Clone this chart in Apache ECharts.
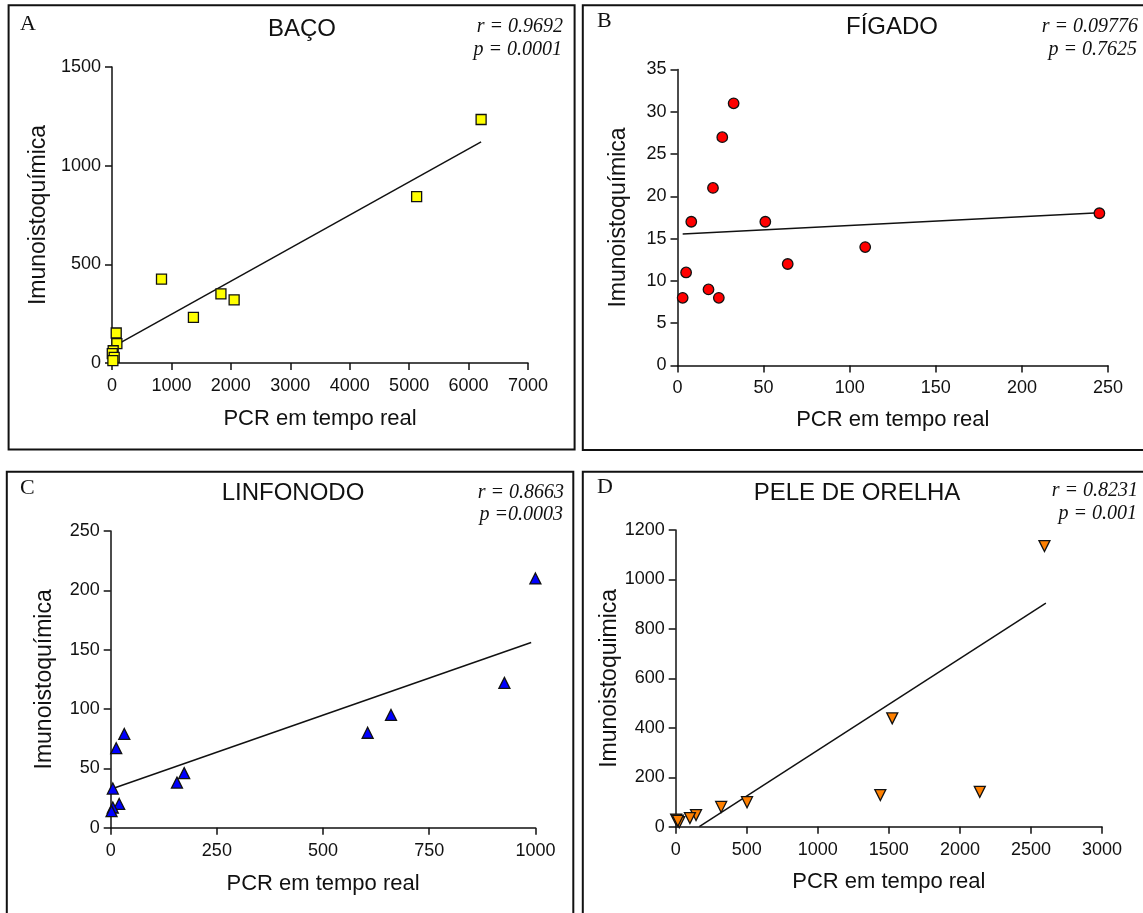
<!DOCTYPE html>
<html>
<head>
<meta charset="utf-8">
<title>Imunoistoquímica x PCR em tempo real</title>
<script src="https://cdn.jsdelivr.net/npm/echarts@6/dist/echarts.min.js"></script>
<style>
  html, body { margin: 0; padding: 0; background: #fff; }
  #chart { width: 1143px; height: 913px; }
</style>
</head>
<body>
<div id="chart"></div>
<script>
// ---- data ----
const panelLetters = ['A', 'B', 'C', 'D'];
const panelTitles = ['BAÇO', 'FÍGADO', 'LINFONODO', 'PELE DE ORELHA'];
const rTexts = ['r = 0.9692', 'r = 0.09776', 'r = 0.8663', 'r = 0.8231'];
const pTexts = ['p = 0.0001', 'p = 0.7625', 'p =0.0003', 'p = 0.001'];
const xNames = ['PCR em tempo real', 'PCR em tempo real', 'PCR em tempo real', 'PCR em tempo real'];
const yNames = ['Imunoistoquímica', 'Imunoistoquímica', 'Imunoistoquímica', 'Imunoistoquimica'];

// axis ranges and tick steps
const xMax = [7000, 250, 1000, 3000];
const xStep = [1000, 50, 250, 500];
const yMax = [1500, 35, 250, 1200];
const yStep = [500, 5, 50, 200];

// A - baço
const bacoPCR = [6211, 5126, 833, 1833, 2055, 1370, 71, 82, 20, 5, 37, 15];
const bacoIHC = [1234, 843, 425, 350, 320, 231, 152, 98, 62, 48, 28, 12];
const bacoFit = [[0, 79], [6211, 1121]];

// B - fígado
const figadoPCR = [245, 32.6, 26, 20.6, 8, 51, 109, 64, 5, 3, 18, 24];
const figadoIHC = [18, 31, 27, 21, 17, 17, 14, 12, 11, 8, 9, 8];
const figadoFit = [[3, 15.55], [245, 18.05]];

// C - linfonodo
const linfonodoPCR = [1000, 927, 660, 605, 173, 156, 32, 13, 5, 20, 5, 2];
const linfonodoIHC = [210, 122, 95, 80, 46, 38, 79, 67, 33, 20, 17, 14];
const linfonodoFit = [[0, 32.4], [990, 156]];

// D - pele de orelha
const pelePCR = [2595, 1524, 1440, 2140, 502, 320, 143, 100, 25, 3, 15];
const peleIHC = [1135, 438, 128, 141, 99, 80, 47, 35, 18, 29, 24];
const peleFit = [[166, 0], [2605, 904]];

// ---- layout / styling ----
const SANS = "'Liberation Sans', Arial, Helvetica, sans-serif";
const SERIF = "'Liberation Serif', 'Times New Roman', serif";
const INK = '#111';

const panels = [
  { pcr: bacoPCR, ihc: bacoIHC, fit: bacoFit, symbol: 'rect', rotate: 0, color: '#FFFF00', size: 10,
    grid: { left: 112, top: 67, width: 416, height: 296 }, yGap: 62, xGap: 45,
    box: [8.6, 5.3, 566, 444.2], letter: [20, 24], title: [302, 29], rp: [563, 27, 49.5] },
  { pcr: figadoPCR, ihc: figadoIHC, fit: figadoFit, symbol: 'circle', rotate: 0, color: '#FF0000', size: 10.5,
    grid: { left: 677.5, top: 69.5, width: 430.5, height: 296 }, yGap: 47, xGap: 43,
    box: [582.8, 5.3, 600, 444.7], letter: [597, 21], title: [892, 27], rp: [1138, 27, 49.5] },
  { pcr: linfonodoPCR, ihc: linfonodoIHC, fit: linfonodoFit, symbol: 'triangle', rotate: 0, color: '#0000FF', size: 11,
    grid: { left: 110.7, top: 531, width: 424.7, height: 296.7 }, yGap: 55, xGap: 45,
    box: [6.8, 471.7, 566.5, 500], letter: [20, 488.5], title: [293, 493], rp: [564, 493, 515] },
  { pcr: pelePCR, ihc: peleIHC, fit: peleFit, symbol: 'triangle', rotate: 180, color: '#FF8000', size: 11,
    grid: { left: 675.7, top: 530, width: 426.3, height: 296.7 }, yGap: 53, xGap: 44,
    box: [582.8, 471.7, 600, 500], letter: [597, 487.5], title: [857, 493.5], rp: [1138, 491, 513.5] }
];

const axisLine = { show: true, onZero: false, lineStyle: { color: INK, width: 1.5 } };
const axisTick = { show: true, inside: false, length: 7, lineStyle: { color: INK, width: 1.5 } };
const plain = v => String(v);

const grids = [], xAxes = [], yAxes = [], series = [], graphics = [];

panels.forEach((p, i) => {
  grids.push(Object.assign({ outerBoundsMode: 'none', containLabel: false }, p.grid));

  xAxes.push({
    type: 'value', gridIndex: i, min: 0, max: xMax[i], interval: xStep[i],
    axisLine, axisTick, splitLine: { show: false },
    axisLabel: { color: INK, fontSize: 18, fontFamily: SANS, margin: 14, formatter: plain },
    name: xNames[i], nameLocation: 'middle', nameGap: p.xGap,
    nameTextStyle: { color: INK, fontSize: 22, fontFamily: SANS }
  });
  yAxes.push({
    type: 'value', gridIndex: i, min: 0, max: yMax[i], interval: yStep[i],
    axisLine, axisTick, splitLine: { show: false },
    axisLabel: { color: INK, fontSize: 18, fontFamily: SANS, margin: 11, formatter: plain },
    name: yNames[i], nameLocation: 'middle', nameGap: p.yGap,
    nameTextStyle: { color: INK, fontSize: 23, fontFamily: SANS }
  });

  // regression line
  series.push({
    type: 'line', xAxisIndex: i, yAxisIndex: i, data: p.fit,
    symbol: 'none', silent: true, z: 2,
    lineStyle: { color: INK, width: 1.5 }
  });
  // measured points
  series.push({
    type: 'scatter', xAxisIndex: i, yAxisIndex: i,
    data: p.pcr.map((x, k) => [x, p.ihc[k]]),
    symbol: p.symbol, symbolRotate: p.rotate, symbolSize: p.size, z: 3,
    itemStyle: { color: p.color, borderColor: INK, borderWidth: 1.3, opacity: 1 }
  });

  // panel frame
  graphics.push({
    type: 'rect', silent: true,
    shape: { x: p.box[0], y: p.box[1], width: p.box[2], height: p.box[3] },
    style: { fill: 'none', stroke: INK, lineWidth: 2 }
  });
  // panel letter
  graphics.push({
    type: 'text', x: p.letter[0], y: p.letter[1],
    style: { text: panelLetters[i], font: '22px ' + SERIF, fill: INK, textAlign: 'left', textVerticalAlign: 'middle' }
  });
  // panel title
  graphics.push({
    type: 'text', x: p.title[0], y: p.title[1],
    style: { text: panelTitles[i], font: '24px ' + SANS, fill: INK, textAlign: 'center', textVerticalAlign: 'middle' }
  });
  // correlation statistics
  graphics.push({
    type: 'text', x: p.rp[0], y: p.rp[1],
    style: { text: rTexts[i], font: 'italic 20px ' + SERIF, fill: INK, textAlign: 'right', textVerticalAlign: 'middle' }
  });
  graphics.push({
    type: 'text', x: p.rp[0] - 1, y: p.rp[2],
    style: { text: pTexts[i], font: 'italic 20px ' + SERIF, fill: INK, textAlign: 'right', textVerticalAlign: 'middle' }
  });
});

const chart = echarts.init(document.getElementById('chart'), null, { renderer: 'canvas' });
chart.setOption({
  animation: false,
  backgroundColor: '#fff',
  grid: grids,
  xAxis: xAxes,
  yAxis: yAxes,
  series: series,
  graphic: { elements: graphics }
});
</script>
</body>
</html>
